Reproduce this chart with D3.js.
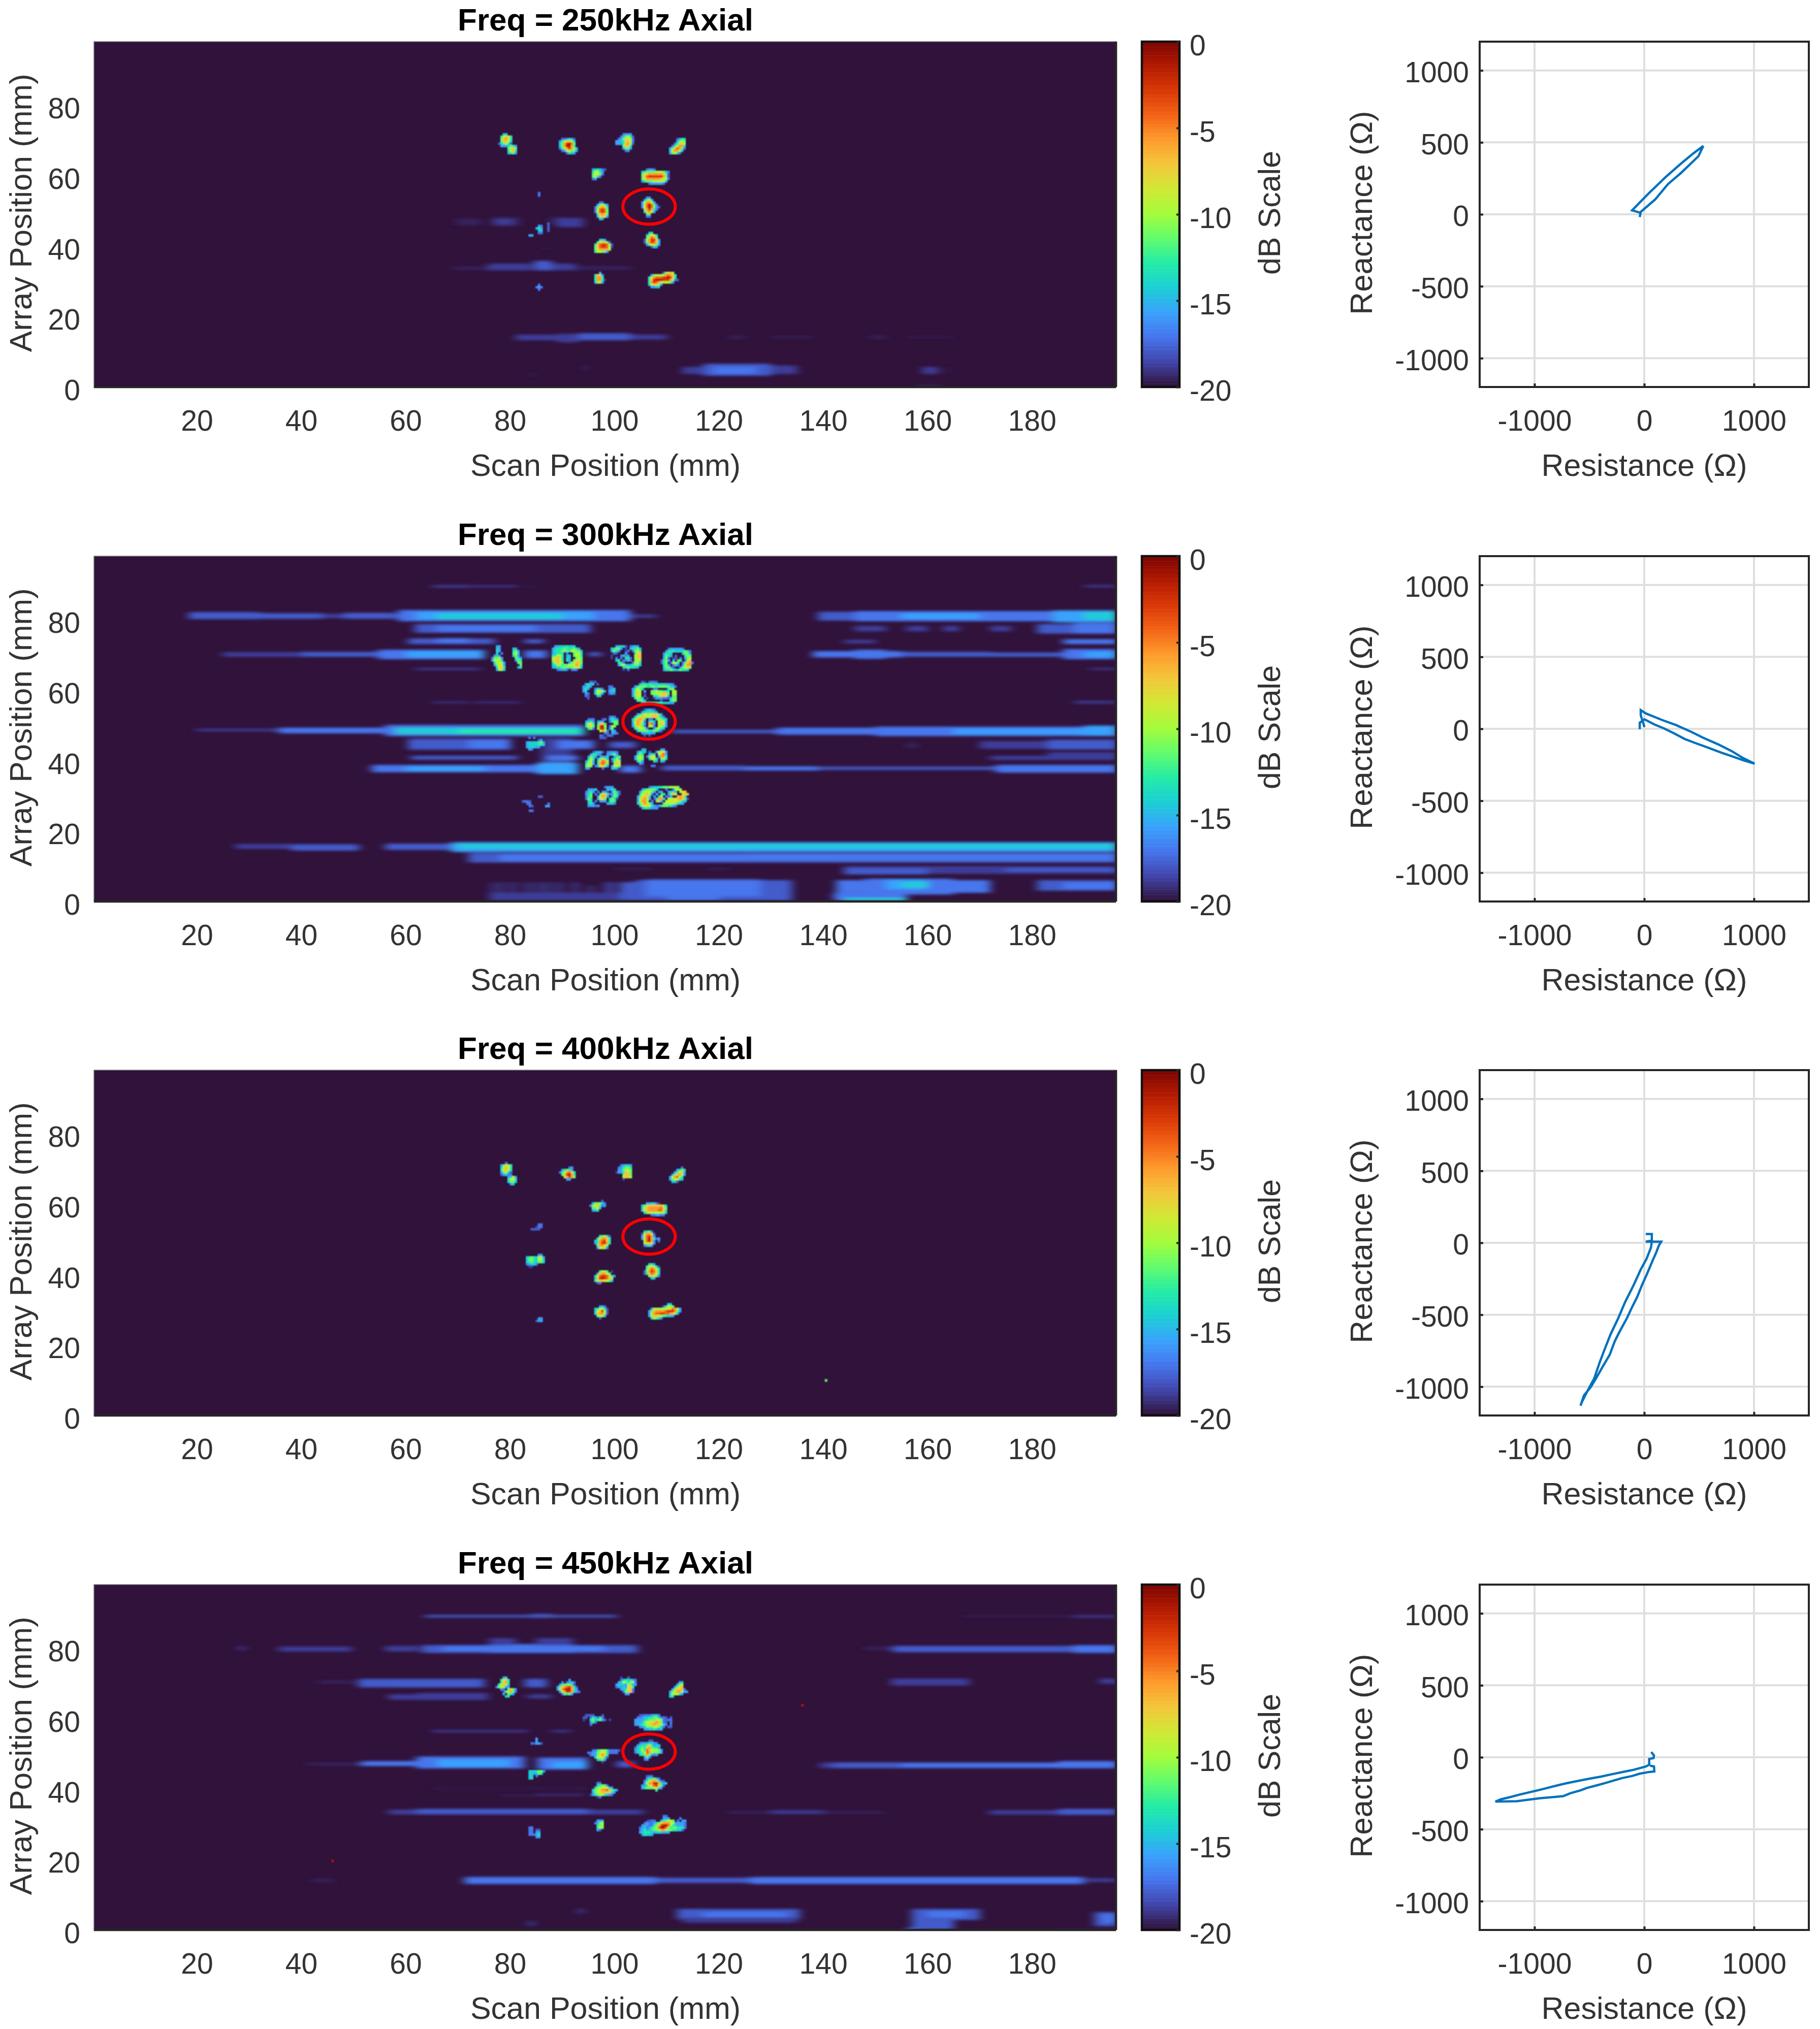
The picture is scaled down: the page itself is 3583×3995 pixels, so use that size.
<!DOCTYPE html>
<html>
<head>
<meta charset="utf-8">
<script src="https://cdnjs.cloudflare.com/ajax/libs/d3/7.8.5/d3.min.js"></script>
<style>
  body { margin: 0; background: #fff; }
  text { font-family: "Liberation Sans", Arial, sans-serif; fill: #333; }
</style>
</head>
<body>
<div id="chart"></div>
<script>
// panels
var freqs = [250, 300, 400, 450];
var xTicks = [20, 40, 60, 80, 100, 120, 140, 160, 180];
var yTicks = [0, 20, 40, 60, 80];
var dbTicks = [0, -5, -10, -15, -20];
var resTicks = [-1000, 0, 1000];
var reacTicks = [-1000, -500, 0, 500, 1000];

// colour map of the dB scale, -20 to 0
var turboStops = ["#30123b", "#4145ab", "#4675ed", "#39a2fc", "#1bcfd4", "#24eca6", "#61fc6c", "#a4fc3b", "#d1e834", "#f3c63a", "#fe9b2d", "#f36315", "#d93806", "#b11901", "#7a0402"];

// one letter for each dB level, "." is below -20
var levelCodes = "yabcdefghijklmn";
var levelValues = [-19.6, -18.8, -17.9, -17.1, -15.7, -14.3, -12.9, -11.4, -10, -8.6, -7.1, -5.7, -4.3, -2.9, -1.4];

// marked flaw, scan mm / array mm / radius mm
var markCentre = [106, 52];
var markRadius = 5;

// spots: [scan mm of left edge, array mm of top edge, rows of dB letters]
var spots250 = [
  [77.18, 72.81, ["..ee....", ".fhjif..", ".gjkif..", ".gjjhe..", "beghfb..", ".dddegfd", "....ghjg", "....fijf", "....efgd"]],
  [88.78, 71.47, [".ccdfeb.", "dfhjjhe.", "egkmnlg.", "egknnkf.", "cfikmkhe", ".cdhiggd", "...cfed."]],
  [99.54, 72.81, ["...cddd.", "..ceghfb", ".cdgiihc", "ddefjjhc", "dddfjkhb", "...gjjf.", "...dggd.", "....cd.."]],
  [109.8, 71.47, ["...bdff", "...dghg", "..cfhjh", ".cfhkke", "dgjlkgc", "eikkhe.", "dghfc.."]],
  [95.09, 62.83, ["defecb", "fhhfd.", "ghigc.", "ghfc..", "cd...."]],
  [104.5, 62.83, ["..cddc......", "efgggghhhgec", "gijkkkkkkjgb", "gjlmmmmmmkgb", "gikkkkkkjihc", "dfggghhhhhe.", "...cdddddc.."]],
  [104.5, 54.83, ["..dd....", ".egie...", "dhkkhd..", "dilnlgc.", "dilnlgdb", ".hkmkfc.", ".fjkhd..", "..gg....", "..cc...."]],
  [95.53, 53.48, ["..cc..", ".dghgd", "cgjkjf", "chlmlg", "chlmlg", ".fjkjg", ".dijid", "..ed.."]],
  [104.95, 44.85, ["..ef...", ".egiie.", ".gjlkg.", "bhkmmjd", "bgkmlje", ".dgijgd", "...bed."]],
  [95.53, 42.88, ["..efd...", ".fijjgb.", "fjlmmlhb", "gjlmmlia", "gikkkkh.", "fhhggd.."]],
  [95.53, 33.53, ["..d..", "fjid.", "fkkf.", "fkkfa", "ehhd."]],
  [105.8, 33.53, ["......bgijh..", ".dghhhiklkjf.", "fiklllmmnmjf.", "fjmnnnmmmkhcb", "fkmlkihhhgd..", "ehjjhd.......", ".ddee........"]],
  [84.78, 56.17, ["c", "c"]],
  [84.33, 46.86, [".dc", "dfd", ".ee", ".cc"]],
  [83, 44.18, ["dd"]],
  [84.33, 30.17, [".c.", "cdc", ".c."]],
  [86.56, 47.53, ["b", "b", "b", "b"]]
];
var spots300 = [
  [75.88, 73.66, ["..dd.........", "..ed.....ed..", "..fd.....fgd.", "..e.c....ghe.", ".dec.....fgd.", "cgghd.....gfd", "dhhhe.....dgf", ".fhhhd.....gg", ".dgiid......g", "..fijf.....df", "..dhhe......."]],
  [87.44, 73.66, [".ddeeefeee...", "defffgfffgfd.", "dfffgggfhhgge", "defff.c..ghhf", "ffhhf.de.ghhf", "hijif.ee..ghg", "hjjif.fd.ghig", "fhjig..dghjjg", "efhhfgghhikjf", "deffggggghihe", "..cddec.cdc.."]],
  [98.65, 73.66, ["..deeeb.cded.", "efggd.a.dffge", "dgfd..ac.cghf", ".cb...d...fij", "a...cecd..hjj", "a.c.c.ffc.hij", "..ef.ccec.gig", "...ffc...chhf", "...dghfdefgge", ".....efgffed.", ".....a.c....."]],
  [108.18, 72.94, ["...cdddddc....", "..dfffeeefgfc.", ".dffe....eggd.", ".dgfd.b...fgg.", ".egb.ab.c.dgh.", "bfgd.e.gf.bhj.", "bfg.chhf.cgjkc", ".fgd.cec.dhkk.", ".eggdb..dghig.", ".dffgfeegffe.."]],
  [93.26, 63.59, ["...cbb........", ".dfee.b.......", "ddfd.......cc.", "dfd..cfec..cde", "de...ehihe.dee", ".dc..ehgd..cdc", ".cb...ee......", "..b..........."]],
  [102.69, 63.59, ["....ba.bccb........", "...dfffffefeeeeddc.", ".dfgggffggfgggggeec", "dfhgf....cc....egg.", "dgih.d..gghggfff.hh", "dgjh.a..ghhiijjg.hh", "dgih.b...ffgijie.gg", ".fhgf.a..adddccbdgg", "..fggd......b...fgg", "....dffffffffeeedd."]],
  [102.69, 55.68, [".....bdedc.....", "....defffed....", "..dfgihhijigd..", ".eghjjhhjjjgec.", "egjkjf.cc.fhgfe", "ehkjhc.efe.hihd", "dhkjgd.kld.hjid", "dgjigc.hhc.hhgd", ".fgihgc..cghfe.", "..eggggffggec..", "....ddeedd.....", ".....b.b......."]],
  [93.81, 53.66, ["..........cdc.", ".ccc...bc.dfed", "defd.ded..cfgg", "fhif.fjjf...gg", "fiig.gmnh.chg.", ".fgc.hmng.dg..", "......hkhc.ed.", "........cc.ddc", "......cb.bcb..", "......bbb....."]],
  [103.17, 44.41, ["...de......dd.", ".cfee.b..dhiid", ".egf..dfe.hjld", "dghg.cgii.dkkf", "dghg..ehhf.ghe", ".fgd....fd.ed.", "..dc..........", ".......cc....."]],
  [93.81, 43.69, ["...bdeeb.cdddc.", "..dffdc..ddfgd.", ".dgfd.dede..dfg", ".fhf.egjge.dfhe", "dghd.fjlkh.bghi", "fhid.fklkg..hji", "ghg.ceijgd.dhhg", "dd.....c...eed."]],
  [93.81, 33.76, ["........cddd...", ".ddde....edfe..", "cefd.c.ddb.dgeb", "deg.c.fijfcdgfb", "cfg..dikjd.dgf.", "cgf..eiig.fgfa.", ".ff.c.ddd.fgf..", ".efd.....deec..", ".dddcd........."]],
  [103.66, 33.76, [".....cdeeffggghhhg....", "..dfgggge...c..bhhh...", ".dghhhgd.dd..dffd.hij.", ".fhijhc.d.ff.dgjh..ijj", "dgijie.d.fh.cbd..jkjf.", "dhjkid.bfkke.hhiijkjgb", "dhkkh.c.gjd.hiiiijgee.", "egjkigd....ghhhhgfed..", ".fhiihfdcdfggffdc.....", "..dffeddd............."]],
  [82.5, 47.77, [".c.c....", ".....bd.", "deeeefgd", "deeeeffe", "deeedd..", ".dc....."]],
  [81.69, 29.73, ["bccb.", "..cc.", "...cb", ".....", "...cc"]],
  [84.8, 31.08, ["bb"]],
  [86.15, 29.06, [".c", "dd"]]
];
var spots400 = [
  [77.62, 73.17, ["..c....", "dgihf..", "eijif..", "fijhf..", "dgheb..", "bdecc..", "...dehd", "...fhif", "...egge", "....de."]],
  [88.8, 71.87, ["....cd.", ".dfgfd.", "cfhkljf", ".gjmnkf", "..hkmkg", "...dd.."]],
  [99.56, 72.54, ["..cdeed", ".cdfggf", ".ddghhg", "addfjig", "...gjjg", "...hjjh", "...a..."]],
  [109.8, 71.87, [".....c.", "...dfgf", "..dfijd", ".dgjkhd", "dhklhf.", "dghife.", ".eeb..."]],
  [94.6, 62.42, [".....b.", ".dgggec", "cgijgcd", ".ggie..", ".def..."]],
  [104.47, 61.75, ["..ddeeca...", "eghjjjjjjhe", "eijkkkkkljg", "eijkkkklljf", ".egihhhhhhe", "....ccddcc."]],
  [104.47, 53.74, [".efgc...", "bhkkib..", "dilmkd..", "dilnkfcd", ".hlnkd.c", ".hjjid..", ".cefd..."]],
  [95.52, 52.45, ["..fghfb", ".fikkjf", "efklmjf", "dfkmmkf", ".gkkjg.", ".dhihc."]],
  [82.5, 47.12, [".....dd.", "efgfehhd", "eggfehhe", "efgfegge", "cdeec...", ".aa....."]],
  [104.92, 44.49, ["..efd..", ".fhihfa", ".gjlkhf", "bgkmljf", "bfjlkif", "..gjigc", "...ee.."]],
  [95.52, 42.47, ["..fhhf.a.", ".ejkkig..", "ehlmmljfd", "ejmnmljh.", "fhjjihge.", ".bc......"]],
  [95.52, 32.5, ["..dec.", "efhhfb", "eijmhb", "ejkkib", ".ghhe.", "..b..."]],
  [105.82, 33.17, ["........ee....", "......bfhhg...", ".dhhhhhhijlkhd", "dgjkkkklmmmkgd", "dhkllmmllkjhd.", "dhjjihgfeed...", ".ehgfd........"]],
  [83.41, 55.76, ["...cc", "..acc", "bbbb."]],
  [84.34, 29.14, [".dd", "bdd"]],
  [139.5, 11.6, ["g"]]
];
var spots450 = [
  [76.69, 73.29, ["...de....", "..fijf...", "..fikf...", ".fhjie...", "cgihdd...", "..dc.gjgd", "...bghkgc", "...d.gfd.", "....ef..."]],
  [88.35, 72.62, [".....d....", "..c.cdec..", ".dfgggfb..", "dgjklmkfb.", "dhkmnnkfd.", ".dhkmmkedc", "..cgfgd..."]],
  [99.56, 73.29, ["..a..b...", "..cefefdc", ".dehgfghc", "deeedhgdd", "cddedijf.", "..defijc.", "...cgjjc.", "....dd..."]],
  [109.8, 71.95, ["....de..", "...dgh..", "..dgij..", ".dgjjjc.", "dgikkhdd", "ehhhfd..", "ef......"]],
  [93.32, 62.64, [".bbbb...b...", "bb.cfecfc...", "a..fgefgdb.a", "...dfc......", "...c........"]],
  [103.17, 62.64, ["..bbcccdeec.....", ".ccdeeffggeccb.b", "ddddefggghhgcbcc", "dddeghiijkjgcb.c", "ddefghijkjjhec.c", "..cdeggghhgec.bb", "....ddeefede...."]],
  [103.17, 55.4, ["......bb....", "..cdddeedc..", ".deffgifdee.", "cefgfjkgffd.", "defhfljhhhgd", "cefghlkhgggd", "..efgkgdcd..", "....dgd.....", "....cd......"]],
  [94.19, 52.67, ["..ccfghhfccccb", "ccddghiifcccc.", ".cddgikjf.....", "...ehiifb.....", "....efgd......", "......a......."]],
  [82.99, 46.77, ["eeefggd", "eedegf.", "ee.c...", "ee....."]],
  [104.47, 45.33, ["..bcc......", "..dffgec...", ".cfhjkjfcb.", ".dhkkmnkfde", "ddfhjlmjgc.", "dfggghjfd..", "......f...."]],
  [94.61, 43.41, ["...cc.......", "...efggc....", "..eghiihed..", ".eghikkljgfd", ".dghijjjjfd.", "adfghhfedc..", "...ac......."]],
  [95.52, 32.76, [".ddd", "cdgh", ".fgh", ".fhg", ".db."]],
  [104.08, 34.06, ["..........cc........", "..........ddd....c..", "...abcc..efghhg.c.dd", "..cdccdfgjkkkihddddc", ".dddccfgjmnnlhfedddc", "cdecdfghlnnlhfggfffc", "cefdefgghkkhggffeeb.", "defffedeeeddd.......", ".dfeed.............."]],
  [82.99, 30.8, ["cc...", "cc.bb", "cc.dd", "cccdf", "...dd"]],
  [83.41, 55.98, ["..d..", "..d..", "cbddb"]],
  [135, 65.5, ["n"]],
  [45.4, 21.4, ["n"]]
];

// streaks: [scan from, scan to, array low, array high, dB letter]
var bands250 = [
  [69.6, 74.4, 46.3, 48.3, "y"], [76.3, 82, 46, 48.6, "y"], [77, 80.5, 46.5, 48.2, "a"], [87.5, 90, 46.5, 48.6, "y"], [89, 94, 45.8, 48.4, "a"],
  [86, 87.4, 39.5, 39.9, "y"],
  [69, 75.7, 33.6, 34.6, "y"], [75.7, 84, 33.5, 35.4, "a"], [84.5, 88, 33.5, 36.2, "b"], [88, 92.4, 33.5, 35.4, "a"], [92.4, 98, 33.6, 34.8, "y"], [98, 103, 33.6, 34.8, "y"],
  [81, 89, 13.6, 15.2, "a"], [89, 93, 13, 15.4, "a"], [93, 103, 13.6, 15.6, "b"], [103, 110, 13.8, 15.2, "a"], [122, 125, 14, 15, "y"], [130, 138, 14.2, 14.8, "y"], [149, 152, 14, 15, "y"], [156, 165, 14.3, 14.7, "y"],
  [113, 117, 4, 6, "a"], [117, 130, 3.5, 6.9, "b"], [119, 127, 4, 6, "c"], [130, 135, 4, 6.4, "a"], [159, 162, 4, 6, "a"], [163.5, 164, 4, 6, "y"], [158, 162.5, 0.3, 1, "y"], [84, 84.5, 3, 4.5, "y"], [94, 95, 5, 6.5, "y"]
];
var bands300 = [
  [65, 72, 89.9, 90.6, "a"], [72, 81.4, 90, 90.5, "a"], [83, 85, 90, 90.4, "y"], [190, 196.3, 90, 90.6, "a"],
  [18.4, 32, 80.9, 82.9, "b"], [32, 44, 81, 82.6, "b"], [44, 58.5, 81.2, 82.4, "a"], [48, 58, 81, 82.7, "b"],
  [58.5, 103, 80.3, 83.5, "c"], [62, 96, 80.8, 83, "d"], [66, 90, 81, 82.5, "e"], [103, 108, 81.3, 82.2, "a"],
  [139, 146, 80.5, 83, "b"], [146, 184, 80.3, 83.2, "c"], [155, 170, 81, 82.5, "d"], [184, 196.3, 80, 83.4, "d"], [190, 196.3, 80.8, 82.8, "e"],
  [61.7, 95.4, 77, 79.5, "b"], [66, 85, 77.3, 79.2, "c"], [146, 152, 77.4, 79, "a"], [156, 160, 77.4, 79, "a"], [163, 166, 77.4, 79, "a"], [172, 176, 77.4, 79, "a"], [181, 196.3, 76.8, 79.5, "b"], [188, 196.3, 76.8, 79.8, "c"],
  [60.4, 77, 73.8, 75.4, "b"], [66, 72, 74, 75.5, "c"], [82.7, 86.5, 74, 75.2, "b"], [144, 150, 74, 75, "a"], [186, 196.3, 73.8, 75.2, "c"],
  [24.8, 40, 70.2, 71.5, "a"], [40, 54.7, 70.2, 71.6, "b"], [54.7, 75, 69.5, 72.2, "c"], [60, 75, 70, 71.8, "d"], [82.7, 87, 69.8, 72, "c"], [95, 97.4, 70.3, 71.5, "b"],
  [138, 155, 70, 71.8, "c"], [146, 152, 69.6, 72.2, "c"], [155, 172, 70.2, 71.6, "b"], [172, 186, 70.2, 71.4, "b"], [186, 196.3, 69.5, 72.4, "c"], [190, 196.3, 70, 71.6, "d"],
  [61.7, 74.4, 66.4, 67, "a"], [191, 196.3, 66.5, 67, "a"],
  [65, 72, 57, 57.4, "a"], [73, 82, 57, 57.4, "a"], [188, 196.3, 56.9, 57.6, "a"],
  [19.8, 35.6, 49, 49.7, "a"], [35.6, 56, 48.4, 50, "c"], [56, 94.2, 47.6, 50.8, "c"], [58, 94.2, 48.2, 49.9, "e"], [70, 93, 48.4, 49.6, "f"],
  [111, 131, 48.4, 49.4, "b"], [131, 150, 48, 50, "c"], [150, 196.3, 47.6, 50.3, "c"], [165, 196.3, 48.2, 49.6, "d"], [190, 196.3, 47.8, 50.6, "d"],
  [60.4, 80, 43.6, 47, "a"], [60.4, 72, 44, 46.6, "b"], [72, 80, 44, 46.6, "c"], [86, 92, 37, 47, "a"], [89, 96, 44, 46.4, "c"], [99, 104, 44.2, 46, "b"], [170, 183, 44, 46.2, "a"], [183, 196.3, 43.8, 46.6, "b"], [156, 158, 44.2, 45.8, "y"],
  [61, 81.4, 40.9, 42, "b"], [87, 93, 40.7, 42, "c"], [172, 196.3, 40.8, 42, "a"], [183, 196.3, 40.9, 43, "a"],
  [53.4, 93, 37.3, 39.4, "c"], [60, 75, 37.6, 39, "d"], [85, 93, 36.8, 40, "d"], [101, 105, 37.2, 39.2, "c"], [109, 125, 37.8, 39.2, "b"], [125, 139, 37.8, 39, "c"], [139, 173, 38, 38.9, "b"], [173, 196.3, 37.2, 39.4, "c"],
  [27.3, 38, 15.5, 16.9, "a"], [38, 51, 15, 16.8, "b"], [56, 68.7, 15.2, 17, "b"], [68.7, 196.3, 14.6, 17.4, "d"], [70, 196.3, 15.6, 16.8, "e"],
  [72, 196.3, 11.6, 14.3, "b"], [78, 125, 12, 14, "c"], [125, 196.3, 12, 14.2, "c"],
  [144, 196.3, 8.4, 10.6, "a"], [144, 160, 8.2, 10, "b"], [175, 196.3, 9, 10, "b"], [100, 107, 9.5, 10, "y"], [118, 122, 9.5, 10, "y"],
  [76.3, 77, 1, 6, "a"], [78, 78.5, 1, 6, "b"], [80, 81, 3, 6, "a"], [83, 83.6, 1, 6, "b"], [85, 86, 1, 6, "a"], [87, 87.6, 1, 6, "b"], [89, 90, 1, 6, "a"], [76, 104, 0.8, 3, "a"], [92, 93, 1, 6, "a"], [95, 96, 1, 5, "a"], [98, 100, 1, 6, "a"], [101, 104, 1, 6, "b"],
  [104, 134, 0.8, 6.6, "b"], [106, 128, 2, 6.8, "c"], [110, 120, 0.8, 6.5, "c"], [128, 134, 1, 4, "b"],
  [142.5, 172, 3, 6.6, "c"], [148, 165, 2.5, 7, "c"], [152, 160, 4, 6.8, "d"], [155, 160, 4.5, 6, "e"], [142, 156, 0.8, 3, "c"], [144, 156, 0.6, 1.5, "e"],
  [181, 196.3, 3.6, 6.6, "b"], [186, 196.3, 4, 6, "c"]
];
var bands400 = [];
var bands450 = [
  [63.6, 100.5, 89.9, 90.6, "b"], [84, 88, 89.8, 90.9, "b"], [166.7, 196.3, 90, 90.4, "y"], [188, 196.3, 89.9, 90.5, "a"],
  [28, 29, 80.5, 81.8, "a"], [35.6, 49.6, 80.2, 81.6, "a"], [56, 62.3, 80.2, 81.8, "a"], [63, 104.4, 79.8, 82, "b"], [67, 98, 80.2, 81.9, "c"], [76, 92, 79.8, 82.3, "c"], [76, 81, 82, 84, "a"], [85, 92, 82, 84, "a"],
  [148, 153, 80.6, 81.6, "y"], [153.3, 196.3, 80, 81.8, "b"], [160, 185, 80, 81.6, "b"], [188, 196.3, 79.8, 82, "c"],
  [43, 50, 71, 72, "y"], [50.9, 75, 70, 72.4, "b"], [58, 75, 70, 72, "b"], [82.7, 87, 70, 72.4, "b"], [153, 168, 70.5, 72.5, "a"], [193, 196.3, 71, 72.5, "a"],
  [56.6, 62, 66.5, 68, "a"], [62, 75.7, 66.4, 68.4, "a"], [83.3, 87.8, 66.8, 68, "a"],
  [65, 83.3, 57.2, 57.8, "a"], [87.8, 91.6, 57.2, 57.8, "a"],
  [41, 44, 47.8, 48.6, "y"], [44, 51.5, 47.6, 48.6, "y"], [51.5, 62, 47.6, 49, "c"], [62, 82.7, 46.9, 50.3, "c"], [66, 80, 47.4, 49.4, "d"], [85.2, 94.8, 46.6, 50, "c"], [88, 94.8, 47, 48.8, "d"], [100.5, 103.7, 47.2, 49, "b"],
  [139.4, 142, 47, 48.6, "a"], [142, 196.3, 47, 48.6, "b"], [155, 196.3, 47.2, 48.4, "c"], [185, 196.3, 47, 49, "c"],
  [65, 95, 41, 41.4, "y"], [78, 85, 39, 39.4, "y"], [85, 94, 39.2, 39.6, "a"],
  [56.6, 105.6, 33.8, 35.2, "a"], [62, 95, 33.9, 35.4, "b"], [121.5, 151.4, 34, 34.8, "y"], [130, 140, 34, 35, "a"], [171.8, 196.3, 33.8, 35, "a"], [185, 196.3, 33.7, 35.4, "b"],
  [42, 46, 14.5, 15.5, "y"], [71.2, 108, 14, 16, "c"], [108, 126, 14.3, 15.8, "b"], [126, 190, 14, 16, "c"], [189.6, 196.3, 14.6, 15.6, "a"],
  [112, 135.5, 4, 6.9, "b"], [117, 133, 4.5, 6, "c"], [113, 135, 3, 4.5, "a"], [157, 170, 3.8, 6.9, "b"], [160, 167, 4.5, 6.3, "c"], [157, 165, 1, 3.8, "b"], [156, 158, 0.3, 1.5, "c"],
  [192, 196.3, 2, 6, "b"], [193.5, 196.3, 3, 5.5, "c"], [93, 94, 5.5, 7, "a"], [83.5, 84.5, 2, 3.5, "a"], [185, 196.3, 0.3, 1, "a"]
];

// impedance loci
var resistance250 = [-41, -32, 99, 216, 333, 494, 538, 450, 348, 202, 41, -111, -32];
var reactance250 = [-19, 17, 103, 210, 286, 404, 475, 425, 361, 264, 146, 28, 10];
var resistance300 = [-41, -41, 2, 91, 183, 275, 367, 459, 582, 705, 797, 905, 1005, 905, 797, 674, 536, 429, 290, 167, 14, -32, -32, 2];
var reactance300 = [-3, 43, 66, 31, 2, -33, -70, -97, -131, -166, -190, -219, -242, -205, -155, -108, -62, -21, 26, 60, 107, 130, 95, 12];
var resistance400 = [14, 69, 69, 14, 155, 132, 108, 77, 22, -17, -64, -111, -158, -221, -268, -315, -378, -440, -487, -550, -581, -566, -519, -456, -409, -362, -307, -237, -174, -96, -33, 22, 61, 69];
var reactance400 = [61, 61, 15, 8, 8, -21, -69, -122, -222, -287, -376, -447, -524, -612, -683, -778, -860, -943, -1002, -1061, -1132, -1103, -1032, -943, -837, -742, -636, -524, -411, -293, -187, -110, -33, 8];
var resistance450 = [64, 89, 85, 45, 45, 14, -96, -174, -284, -393, -503, -597, -707, -785, -879, -957, -1051, -1130, -1224, -1310, -1357, -1161, -957, -738, -675, -581, -519, -432, -346, -284, -205, -111, -41, 45, 92, 89, 53];
var reactance450 = [37, 12, -6, -12, -52, -64, -87, -99, -116, -134, -149, -163, -180, -194, -212, -227, -244, -258, -277, -293, -308, -305, -285, -270, -250, -230, -212, -195, -177, -163, -145, -130, -114, -102, -99, -64, -58];

var allSpots = [spots250, spots300, spots400, spots450];
var allBands = [bands250, bands300, bands400, bands450];
var allRes = [resistance250, resistance300, resistance400, resistance450];
var allReac = [reactance250, reactance300, reactance400, reactance450];

// layout
var width = 3583;
var height = 3995;
var panel_tops = [82, 1095, 2107, 3120];
var plot_height = 680;
var heat_left = 185;
var heat_right = 2197;
var bar_left = 2248;
var bar_right = 2322;
var imp_left = 2913;
var imp_right = 3561;
var cell_w = 0.45;
var cell_h = 0.66;
var tick_size = 57;
var label_size = 61;

var read_spot_x = [187, 2210];
var read_spot_y = [[768, 83], [1782, 1097], [2796, 2111], [3810, 3125]];
var read_band_x = [186.5, 2199];
var read_band_y = [[764, 82], [1778.6, 1096.7], [2792, 2110], [3806.4, 3124.5]];

var colour = d3.scaleLinear()
    .domain(turboStops.map(function(c, i){ return -20 + 20 * i / (turboStops.length - 1); }))
    .range(turboStops)
    .clamp(true);

function levelColour(code) {
    return colour(levelValues[levelCodes.indexOf(code)]);
}

var svg = d3.select("#chart").append("svg")
    .attr("width", width)
    .attr("height", height)
    .style("display", "block");

var defs = svg.append("defs");
defs.append("filter").attr("id", "soft").append("feGaussianBlur").attr("stdDeviation", 1.3);
defs.append("filter").attr("id", "softer").attr("x", "-5%").attr("width", "110%").attr("y", "-20%").attr("height", "140%")
    .append("feGaussianBlur").attr("stdDeviation", "9 2.8");

function styleAxis(g) {
    g.select(".domain").remove();
    g.selectAll(".tick line").attr("stroke", "#262626").attr("stroke-width", 4);
    g.selectAll(".tick text").attr("font-size", tick_size).style("fill", "#333");
}

freqs.forEach(function(freq, p) {
    var top = panel_tops[p];
    var bottom = top + plot_height;
    var mid = top + plot_height / 2 - 3;
    var heat_mid = (heat_left + heat_right) / 2 + 1;

    var x = d3.scaleLinear().domain([0.3, 196.1]).range([heat_left, heat_right]);
    var y = d3.scaleLinear().domain([0, 98]).range([bottom, top]);
    var spot_x = d3.scaleLinear().domain([0.33, 196.3]).range(read_spot_x);
    var spot_y = d3.scaleLinear().domain([0, 98.6]).range(read_spot_y[p]);
    var band_x = d3.scaleLinear().domain([0.33, 196.3]).range(read_band_x);
    var band_y = d3.scaleLinear().domain([0, 98.6]).range(read_band_y[p]);

    // heatmap
    var clip_id = "clip" + p;
    defs.append("clipPath").attr("id", clip_id).append("rect")
        .attr("x", heat_left).attr("y", top).attr("width", heat_right - heat_left).attr("height", plot_height);

    var heat = svg.append("g").attr("clip-path", "url(#" + clip_id + ")");
    heat.append("rect")
        .attr("x", heat_left).attr("y", top).attr("width", heat_right - heat_left).attr("height", plot_height)
        .attr("fill", colour(-20));

    heat.append("g").attr("filter", "url(#softer)")
        .selectAll("rect")
        .data(allBands[p])
        .enter()
        .append("rect")
        .attr("x", function(d){ return band_x(d[0]); })
        .attr("width", function(d){ return band_x(d[1]) - band_x(d[0]); })
        .attr("y", function(d){ return band_y(d[3]); })
        .attr("height", function(d){ return band_y(d[2]) - band_y(d[3]); })
        .attr("fill", function(d){ return levelColour(d[4]); });

    var cells = [];
    allSpots[p].forEach(function(s) {
        s[2].forEach(function(row, r) {
            row.split("").forEach(function(code, c) {
                if (levelCodes.indexOf(code) >= 0) {
                    cells.push({scan: s[0] + c * cell_w, arr: s[1] - r * cell_h, code: code});
                }
            });
        });
    });

    heat.append("g").attr("filter", "url(#soft)")
        .selectAll("rect")
        .data(cells)
        .enter()
        .append("rect")
        .attr("x", function(d){ return spot_x(d.scan); })
        .attr("y", function(d){ return spot_y(d.arr); })
        .attr("width", spot_x(cell_w) - spot_x(0) + 0.5)
        .attr("height", spot_y(0) - spot_y(cell_h) + 0.5)
        .attr("fill", function(d){ return levelColour(d.code); });

    // marked flaw
    heat.append("ellipse")
        .attr("cx", spot_x(markCentre[0]))
        .attr("cy", spot_y(markCentre[1]))
        .attr("rx", spot_x(markRadius) - spot_x(0))
        .attr("ry", spot_y(0) - spot_y(markRadius))
        .attr("fill", "none")
        .attr("stroke", "#ff0000")
        .attr("stroke-width", 6);

    svg.append("rect")
        .attr("x", heat_left).attr("y", top).attr("width", heat_right - heat_left).attr("height", plot_height)
        .attr("fill", "none").attr("stroke", "#777").attr("stroke-width", 1.5);
    svg.append("line")
        .attr("x1", heat_left).attr("x2", heat_right).attr("y1", bottom).attr("y2", bottom)
        .attr("stroke", "#262626").attr("stroke-width", 4.5);
    svg.append("line")
        .attr("x1", heat_right).attr("x2", heat_right).attr("y1", top).attr("y2", bottom)
        .attr("stroke", "#262626").attr("stroke-width", 4.5);

    svg.append("g")
        .attr("transform", "translate(0," + bottom + ")")
        .call(d3.axisBottom(x).tickValues(xTicks).tickSize(0).tickPadding(46).tickFormat(function(d){ return String(d); }))
        .call(styleAxis);
    svg.append("g")
        .attr("transform", "translate(" + heat_left + ",0)")
        .call(d3.axisLeft(y).tickValues(yTicks).tickSize(0).tickPadding(27).tickFormat(function(d){ return String(d); }))
        .call(styleAxis)
        .selectAll(".tick text").attr("dy", "0.45em");

    svg.append("text")
        .attr("x", heat_mid)
        .attr("y", top - 22)
        .attr("text-anchor", "middle")
        .attr("font-size", label_size + 1)
        .attr("font-weight", "bold")
        .style("fill", "#000")
        .text("Freq = " + freq + "kHz Axial");
    svg.append("text")
        .attr("x", heat_mid)
        .attr("y", bottom + 174.5)
        .attr("text-anchor", "middle")
        .attr("font-size", label_size)
        .text("Scan Position (mm)");
    svg.append("text")
        .attr("transform", "translate(62," + mid + ") rotate(-90)")
        .attr("text-anchor", "middle")
        .attr("font-size", label_size + 1)
        .text("Array Position (mm)");

    // colour bar
    var db = d3.scaleLinear().domain([-20, 0]).range([bottom, top]);
    var bar_levels = d3.range(-20, 0, 0.1);
    svg.append("g")
        .selectAll("rect")
        .data(bar_levels)
        .enter()
        .append("rect")
        .attr("x", bar_left)
        .attr("width", bar_right - bar_left)
        .attr("y", function(d){ return db(d + 0.1); })
        .attr("height", db(-0.1) - db(0) + 0.5)
        .attr("fill", function(d){ return colour(d); });
    svg.append("rect")
        .attr("x", bar_left).attr("y", top).attr("width", bar_right - bar_left).attr("height", plot_height)
        .attr("fill", "none").attr("stroke", "#111").attr("stroke-width", 4.5);

    var bar_axis = svg.append("g")
        .attr("transform", "translate(" + bar_right + ",0)")
        .call(d3.axisRight(db).tickValues(dbTicks).tickSize(-6).tickPadding(20).tickFormat(function(d){ return String(d); }))
        .call(styleAxis);
    bar_axis.selectAll(".tick text").attr("dy", "0.46em");

    svg.append("text")
        .attr("transform", "translate(2520," + mid + ") rotate(-90)")
        .attr("text-anchor", "middle")
        .attr("font-size", label_size)
        .text("dB Scale");

    // impedance plot
    var xr = d3.scaleLinear().domain([-1500, 1500]).range([imp_left, imp_right]);
    var yr = d3.scaleLinear().domain([-1200, 1200]).range([bottom, top]);

    var grid = svg.append("g");
    grid.selectAll(".gridv")
        .data(resTicks)
        .enter()
        .append("line")
        .attr("x1", function(d){ return xr(d); })
        .attr("x2", function(d){ return xr(d); })
        .attr("y1", top)
        .attr("y2", bottom)
        .attr("stroke", "#dfdfdf")
        .attr("stroke-width", 4);
    grid.selectAll(".gridh")
        .data(reacTicks)
        .enter()
        .append("line")
        .attr("x1", imp_left)
        .attr("x2", imp_right)
        .attr("y1", function(d){ return yr(d); })
        .attr("y2", function(d){ return yr(d); })
        .attr("stroke", "#dfdfdf")
        .attr("stroke-width", 4);

    var locus = d3.line()
        .x(function(d){ return xr(d[0]); })
        .y(function(d){ return yr(d[1]); });
    svg.append("path")
        .datum(d3.zip(allRes[p], allReac[p]))
        .attr("d", locus)
        .attr("fill", "none")
        .attr("stroke", "#0072bd")
        .attr("stroke-width", 4.5)
        .attr("stroke-linejoin", "miter");

    svg.append("rect")
        .attr("x", imp_left).attr("y", top).attr("width", imp_right - imp_left).attr("height", plot_height)
        .attr("fill", "none").attr("stroke", "#262626").attr("stroke-width", 4);

    svg.append("g")
        .attr("transform", "translate(0," + bottom + ")")
        .call(d3.axisBottom(xr).tickValues(resTicks).tickSize(-7).tickPadding(46).tickFormat(function(d){ return String(d); }))
        .call(styleAxis);
    svg.append("g")
        .attr("transform", "translate(" + imp_left + ",0)")
        .call(d3.axisLeft(yr).tickValues(reacTicks).tickSize(-7).tickPadding(21).tickFormat(function(d){ return String(d); }))
        .call(styleAxis)
        .selectAll(".tick text").attr("dy", "0.4em");

    svg.append("text")
        .attr("x", xr(0))
        .attr("y", bottom + 174.5)
        .attr("text-anchor", "middle")
        .attr("font-size", label_size)
        .text("Resistance (\u03a9)");
    svg.append("text")
        .attr("transform", "translate(2701," + mid + ") rotate(-90)")
        .attr("text-anchor", "middle")
        .attr("font-size", label_size + 1)
        .text("Reactance (\u03a9)");
});
</script>
</body>
</html>
